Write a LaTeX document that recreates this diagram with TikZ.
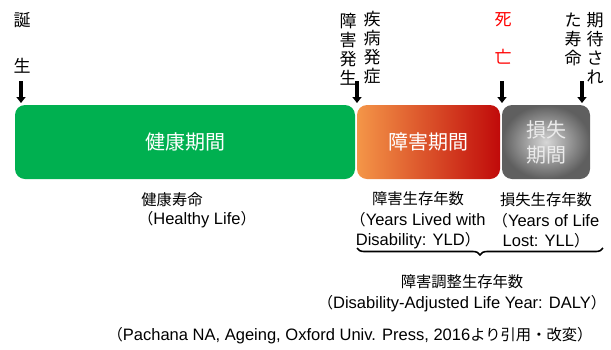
\documentclass[tikz,border=0pt]{standalone}
\usepackage{fontspec}
\setmainfont{Noto Sans CJK JP}
\newfontfamily\lat[Scale=1.08]{Liberation Sans}
\usetikzlibrary{arrows.meta,decorations.pathreplacing}
\definecolor{hgreen}{RGB}{0,176,80}
\definecolor{dorange}{RGB}{244,150,72}
\definecolor{dred}{RGB}{192,10,10}
\definecolor{gin}{RGB}{215,215,215}
\definecolor{gout}{RGB}{95,95,95}
\definecolor{gtext}{RGB}{235,235,235}
\tikzset{
  bar/.style={rounded corners=10pt, minimum height=74pt, inner sep=0pt, text=white, font=\fontsize{20}{22}\selectfont},
  vlab/.style={align=center, inner sep=0pt, font=\fontsize{17}{19}\selectfont},
  lab/.style={align=center, inner sep=0pt, font=\fontsize{15.3}{20.5}\selectfont},
  down/.style={-{Triangle[width=9pt,length=6pt]}, line width=3.6pt},
}
\begin{document}
\begin{tikzpicture}[x=1pt,y=-1pt]
\useasboundingbox (0,0) rectangle (611,349);
% bars
\node[bar, fill=hgreen, minimum width=340pt] (healthy) at (185,142) {健康期間};
\node[bar, left color=dorange, right color=dred, minimum width=143pt] (disab) at (428.5,142) {障害期間};
\node[bar, shading=radial, inner color=gin, outer color=gout, minimum width=88pt, text=gtext, align=center, font=\fontsize{20}{25}\selectfont] (lost) at (546,142) {損失\\期間};
% vertical labels
\node[vlab] (birth1) at (22,20) {誕};
\node[vlab] (birth2) at (22,66) {生};
\node[vlab] (onset1) at (348,49) {障\\害\\発\\生};
\node[vlab] (onset2) at (372,48) {疾\\病\\発\\症};
\node[vlab, text=red] (death1) at (503,20) {死};
\node[vlab, text=red] (death2) at (503,57) {亡};
\node[vlab] (exp1) at (573,39.5) {た\\寿\\命};
\node[vlab] (exp2) at (595,48.5) {期\\待\\さ\\れ};
% arrows
\coordinate (a1) at (21,81);
\coordinate (a2) at (357,81);
\coordinate (a3) at (502,81);
\coordinate (a4) at (582,81);
\coordinate (e1) at (21,103);
\coordinate (e2) at (357,103);
\coordinate (e3) at (502,103);
\coordinate (e4) at (582,103);
\draw[down] (a1) -- (e1);
\draw[down] (a2) -- (e2);
\draw[down] (a3) -- (e3);
\draw[down] (a4) -- (e4);
% labels below
\node[lab] (hl1) at (172,200) {健康寿命};
\node[lab] (hl2) at (197,220) {（{\lat Healthy Life}）};
\node[lab] (yld) at (418,220.5) {障害生存年数\\（{\lat Years Lived with}\\{\lat Disability: YLD}）};
\node[lab] (yll) at (546,220.5) {損失生存年数\\（{\lat Years of Life}\\{\lat Lost: YLL}）};
\coordinate (b1) at (357,248);
\coordinate (b2) at (603,248);
\draw[decorate, decoration={brace, mirror, amplitude=7pt}, line width=1.6pt] (b1) -- (b2);
\node[lab] (daly) at (462,293.5) {障害調整生存年数\\（{\lat Disability-Adjusted Life Year: DALY}）};
\node[lab] (cite) at (350,336) {（{\lat Pachana NA, Ageing, Oxford Univ. Press, 2016}より引用・改変）};
\end{tikzpicture}
\end{document}
